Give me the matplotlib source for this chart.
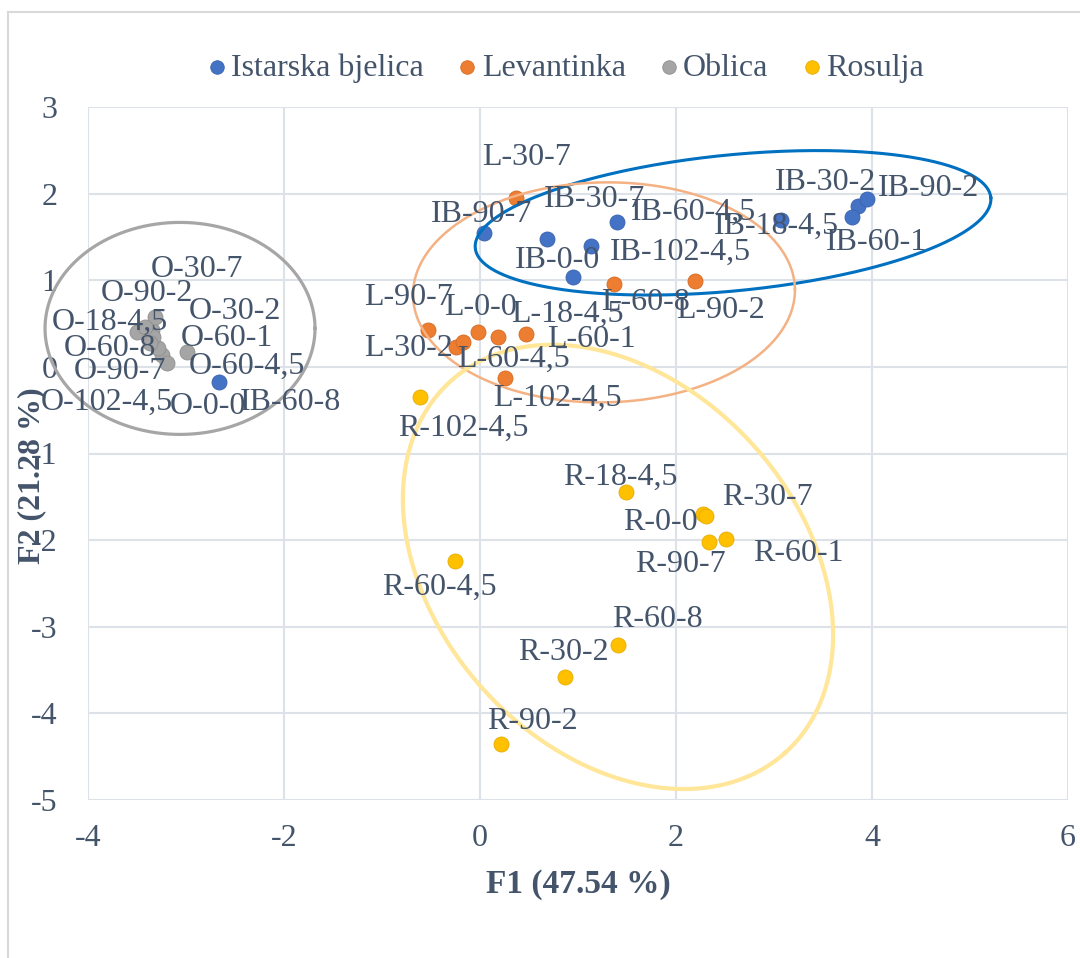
import numpy as np
import matplotlib
matplotlib.use("Agg")
import matplotlib.pyplot as plt
from matplotlib.lines import Line2D

plt.rcParams['font.family'] = ['Liberation Serif', 'DejaVu Serif']
plt.rcParams['axes.unicode_minus'] = False

TEXT = '#44546A'

# ---------------- data ----------------
series_names = ['Istarska bjelica', 'Levantinka', 'Oblica', 'Rosulja']
series_colors = ['#4472C4', '#ED7D31', '#A5A5A5', '#FFC000']

ib_labels = ['IB-0-0', 'IB-18-4,5', 'IB-30-2', 'IB-30-7', 'IB-60-1', 'IB-60-4,5', 'IB-60-8', 'IB-90-2', 'IB-90-7', 'IB-102-4,5']
ib_f1 = [0.95, 3.07, 3.86, 0.68, 3.80, 1.40, -2.66, 3.95, 0.04, 1.13]
ib_f2 = [1.04, 1.69, 1.86, 1.48, 1.73, 1.67, -0.18, 1.94, 1.54, 1.40]

l_labels = ['L-0-0', 'L-18-4,5', 'L-30-2', 'L-30-7', 'L-60-1', 'L-60-4,5', 'L-60-8', 'L-90-2', 'L-90-7', 'L-102-4,5']
l_f1 = [-0.02, 0.18, -0.24, 0.37, 0.47, -0.17, 1.37, 2.19, -0.53, 0.26]
l_f2 = [0.40, 0.35, 0.23, 1.95, 0.38, 0.29, 0.96, 0.99, 0.43, -0.13]

o_labels = ['O-0-0', 'O-18-4,5', 'O-30-2', 'O-30-7', 'O-60-1', 'O-60-4,5', 'O-60-8', 'O-90-2', 'O-90-7', 'O-102-4,5']
o_f1 = [-3.24, -3.50, -3.35, -3.32, -2.99, -3.29, -3.34, -3.42, -3.19, -3.37]
o_f2 = [0.14, 0.40, 0.43, 0.58, 0.17, 0.22, 0.35, 0.46, 0.05, 0.28]

r_labels = ['R-0-0', 'R-18-4,5', 'R-30-2', 'R-30-7', 'R-60-1', 'R-60-4,5', 'R-60-8', 'R-90-2', 'R-90-7', 'R-102-4,5']
r_f1 = [2.28, 1.49, 0.87, 2.31, 2.51, -0.26, 1.41, 0.21, 2.34, -0.61]
r_f2 = [-1.70, -1.45, -3.58, -1.72, -1.99, -2.24, -3.21, -4.35, -2.02, -0.35]

x_ticks = [-4, -2, 0, 2, 4, 6]
y_ticks = [-5, -4, -3, -2, -1, 0, 1, 2, 3]
x_title = 'F1 (47.54 %)'
y_title = 'F2 (21.28 %)'

# ---------------- layout (label offsets in pixels, y up) ----------------
label_offsets = {
    'IB-0-0': (-16, 16), 'IB-18-4,5': (-4, -6), 'IB-30-2': (-33, 23), 'IB-30-7': (48, 39),
    'IB-60-1': (24, -25), 'IB-60-4,5': (76, 10), 'IB-60-8': (71, -20), 'IB-90-2': (61, 10),
    'IB-90-7': (-2, 19), 'IB-102-4,5': (90, -7),
    'L-0-0': (2, 25), 'L-18-4,5': (70, 22), 'L-30-2': (-48, -2), 'L-30-7': (10, 40),
    'L-60-1': (65, -6), 'L-60-4,5': (50, -18), 'L-60-8': (31, -19), 'L-90-2': (26, -29),
    'L-90-7': (-20, 32), 'L-102-4,5': (52, -20),
    'O-0-0': (45, -52), 'O-18-4,5': (-27, 10), 'O-30-2': (83, 18), 'O-30-7': (42, 47),
    'O-60-1': (40, 14), 'O-60-4,5': (89, -19), 'O-60-8': (-43, -12), 'O-90-2': (2, 34),
    'O-90-7': (-47, -9), 'O-102-4,5': (-43, -60),
    'R-0-0': (-43, -8), 'R-18-4,5': (-6, 15), 'R-30-2': (-2, 24), 'R-30-7': (61, 18),
    'R-60-1': (72, -14), 'R-60-4,5': (-15, -26), 'R-60-8': (39, 25), 'R-90-2': (32, 22),
    'R-90-7': (-29, -23), 'R-102-4,5': (43, -31),
}

# ellipses: center (data), semi-axes (pixels), angle (deg), color, linewidth
ellipses = [
    ((-3.061, 0.444), 135, 106, 0, '#A6A6A6', 2.3),
    ((2.582, 1.663), 259, 68, 5.6, '#0070C0', 2.2),
    ((1.265, 0.860), 191, 110, 1, '#F4B183', 1.8),
    ((1.408, -2.309), 250, 182, -48, '#FFE699', 3.0),
]

W, H = 1080, 958
fig = plt.figure(figsize=(W / 100, H / 100), dpi=100)
ax = fig.add_axes([88 / W, 1 - 800 / H, 980 / W, 693 / H])
ax.set_xlim(-4, 6)
ax.set_ylim(-5, 3)
ax.set_xticks(x_ticks)
ax.set_yticks(y_ticks)
ax.set_xticklabels([str(v) for v in x_ticks])
ax.set_yticklabels([str(v) for v in y_ticks])
ax.tick_params(length=0, labelsize=23, labelcolor=TEXT)
ax.tick_params(axis='y', pad=22)
ax.tick_params(axis='x', pad=17)
for s in ax.spines.values():
    s.set_visible(False)
ax.grid(True, color='#DDE1E8', lw=1.5, zorder=0)
ax.axhline(0, color='#BDC4D2', lw=1.2, zorder=0.5)
ax.axvline(0, color='#BDC4D2', lw=1.2, zorder=0.5)

groups = [(ib_labels, ib_f1, ib_f2), (l_labels, l_f1, l_f2), (o_labels, o_f1, o_f2), (r_labels, r_f1, r_f2)]
edge = ['#3A63AE', '#D46A22', '#8F8F8F', '#E5AC00']
for (labs, xs, ys), name, c, ec in zip(groups, series_names, series_colors, edge):
    ax.scatter(xs, ys, s=117, color=c, edgecolors=ec, linewidths=0.6, zorder=3, label=name)

# ellipses (pixel semi-axes converted to data units)
sx = 980 / 10.0
sy = 693 / 8.0
t = np.linspace(0, 2 * np.pi, 400)
for (cx, cy), a, b, ang, col, lw in ellipses:
    th = np.deg2rad(ang)
    ex = cx + (a * np.cos(th) * np.cos(t) - b * np.sin(th) * np.sin(t)) / sx
    ey = cy + (a * np.sin(th) * np.cos(t) + b * np.cos(th) * np.sin(t)) / sy
    ax.plot(ex, ey, color=col, lw=lw, zorder=4, clip_on=False)

for labs, xs, ys in groups:
    for lab, x, y in zip(labs, xs, ys):
        dx, dy = label_offsets[lab]
        ax.annotate(lab, (x, y), xytext=(dx * 0.72, dy * 0.72), textcoords='offset points',
                    ha='center', va='center', fontsize=23, color=TEXT, zorder=6)

leg = ax.legend(loc='center', bbox_to_anchor=(564 / W, 1 - 68 / H), bbox_transform=fig.transFigure,
                ncol=4, frameon=False, fontsize=23, handletextpad=0.05, columnspacing=0.95,
                handlelength=0.8, markerscale=0.9)
for txt in leg.get_texts():
    txt.set_color(TEXT)

fig.text(578 / W, 1 - 885 / H, x_title, ha='center', va='center', fontsize=24, fontweight='bold', color=TEXT)
fig.text(32 / W, 1 - 476 / H, y_title, ha='center', va='center', rotation=90, fontsize=23,
         fontweight='bold', color=TEXT)

# chart border
fig.add_artist(Line2D([8 / W, 1.0], [1 - 12 / H, 1 - 12 / H], transform=fig.transFigure, color='#D9D9D9', lw=1.5))
fig.add_artist(Line2D([8 / W, 8 / W], [0, 1 - 12 / H], transform=fig.transFigure, color='#D9D9D9', lw=1.5))

fig.savefig('out.png', dpi=100)
